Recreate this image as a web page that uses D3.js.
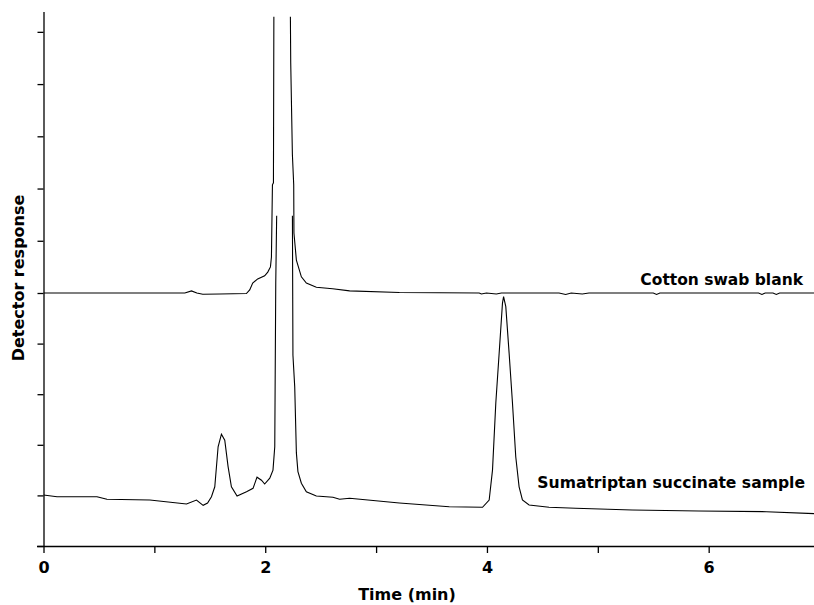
<!DOCTYPE html>
<html lang="en">
<head>
    <meta charset="UTF-8">
    <title>Chromatogram</title>
    <script src="https://d3js.org/d3.v7.min.js"></script>
    <style>
        body { margin: 0; background: #fff; }
        svg { display: block; }
        .trace { fill: none; stroke: #000; stroke-width: 1.1px; }
        .axis path, .axis line { stroke: #000; stroke-width: 1.3px; }
        .axis text, .label, .series-label {
            font-family: "DejaVu Sans", Verdana, sans-serif;
            font-weight: bold;
            fill: #000;
        }
    </style>
</head>
<body>
<svg width="814" height="605"></svg>
<script>
    // time (min), detector response (arbitrary units, tick = 1)
    const blankTime = [0, 1.275, 1.335, 1.383, 1.437, 1.59, 1.83, 1.86, 1.887, 1.932, 1.995, 2.023, 2.047, 2.056, 2.065, 2.074,
        2.09, 2.15, 2.21, 2.227, 2.23, 2.245, 2.257, 2.259, 2.281, 2.326, 2.371, 2.461, 2.608, 2.761, 3.21, 3.93,
        3.95, 3.995, 4.085, 4.13, 4.65, 4.71, 4.76, 4.86, 4.92, 5.50, 5.53, 5.56, 6.45, 6.48, 6.51, 6.58, 6.61, 6.64, 6.95];
    const blankResp = [5.0, 5.0, 5.04, 5.0, 4.975, 4.98, 4.99, 5.06, 5.19, 5.27, 5.33, 5.40, 5.50, 5.69, 7.07, 7.11,
        20, 30, 20, 10.29, 9.41, 7.65, 7.07, 6.15, 5.63, 5.31, 5.19, 5.11, 5.08, 5.04, 5.01, 5.0,
        4.98, 5.0, 4.98, 5.0, 5.0, 4.97, 5.0, 4.98, 5.0, 5.0, 4.97, 5.0, 5.0, 4.97, 5.0, 5.0, 4.97, 5.0, 5.0];

    const sampleTime = [0, 0.122, 0.482, 0.572, 0.959, 1.29, 1.38, 1.44, 1.48, 1.515, 1.545, 1.575, 1.605, 1.635, 1.665,
        1.695, 1.746, 1.831, 1.89, 1.926, 1.966, 1.995, 2.041, 2.07, 2.086, 2.095, 2.104, 2.15, 2.245, 2.25, 2.266,
        2.281, 2.295, 2.326, 2.371, 2.461, 2.611, 2.671, 2.761, 3.21, 3.66, 3.96, 4.02, 4.05, 4.08, 4.11, 4.14, 4.15,
        4.17, 4.20, 4.23, 4.26, 4.29, 4.32, 4.38, 4.56, 4.80, 5.31, 5.91, 6.52, 6.95];
    const sampleResp = [1.008, 0.974, 0.974, 0.923, 0.909, 0.830, 0.909, 0.804, 0.85, 0.974, 1.17, 1.96, 2.21, 2.09, 1.57,
        1.17, 0.988, 1.073, 1.14, 1.36, 1.30, 1.225, 1.34, 1.50, 1.96, 5.2, 6.6, 15, 6.6, 3.77, 3.15,
        1.84, 1.47, 1.24, 1.07, 0.988, 0.962, 0.923, 0.943, 0.85, 0.777, 0.765, 0.909, 1.50, 2.83, 3.81, 4.80, 4.93,
        4.73, 3.81, 2.83, 1.76, 1.17, 0.909, 0.81, 0.765, 0.745, 0.711, 0.692, 0.678, 0.64];

    const seriesNames = ["Cotton swab blank", "Sumatriptan succinate sample"];
    const xTicks = [0, 1, 2, 3, 4, 5, 6];
    const xTickLabels = ["0", "", "2", "", "4", "", "6"];
    const yTicks = [0, 1, 2, 3, 4, 5, 6, 7, 8, 9, 10];

    const svg = d3.select("svg");

    const x = d3.scaleLinear().domain([0, 6.95]).range([43.5, 814]);
    // the two stacked traces were plotted with slightly different vertical spacing
    const y = d3.scaleLinear().domain([0, 5, 10.38]).range([546, 293, 12]);

    // each trace clipped at its own top (response units)
    const clipTops = [10.29, 6.48];
    clipTops.forEach((top, i) => {
        svg.append("clipPath").attr("id", "clip" + i)
            .append("rect")
            .attr("x", x(0)).attr("y", y(top))
            .attr("width", x(6.95) - x(0))
            .attr("height", y(0) - y(top) + 20);
    });

    const line = d3.line().x(d => x(d[0])).y(d => y(d[1]));
    const traces = [d3.zip(blankTime, blankResp), d3.zip(sampleTime, sampleResp)];

    traces.forEach((pts, i) => {
        svg.append("path")
            .attr("class", "trace")
            .attr("clip-path", `url(#clip${i})`)
            .attr("d", line(pts));
    });

    // axes
    svg.append("g")
        .attr("class", "axis")
        .attr("transform", `translate(0,${y(0)})`)
        .call(d3.axisBottom(x).tickValues(xTicks).tickSize(7).tickSizeOuter(0)
            .tickFormat((d, i) => xTickLabels[i]))
        .call(g => g.select(".domain").attr("d", `M37,0.5H814`))
        .selectAll("text").attr("font-size", 16).attr("dy", "1.05em");

    svg.append("g")
        .attr("class", "axis")
        .attr("transform", `translate(${x(0)},0)`)
        .call(d3.axisLeft(y).tickValues(yTicks).tickSize(6).tickSizeOuter(0).tickFormat(""))
        .call(g => g.select(".domain").attr("d", `M0.5,${y(10.38)}V${y(0)}`));

    // labels
    svg.append("text")
        .attr("class", "label")
        .attr("x", 407).attr("y", 600)
        .attr("text-anchor", "middle")
        .attr("font-size", 16)
        .text("Time (min)");

    svg.append("text")
        .attr("class", "label")
        .attr("transform", "translate(24,278) rotate(-90)")
        .attr("text-anchor", "middle")
        .attr("font-size", 16)
        .text("Detector response");

    svg.append("text")
        .attr("class", "series-label")
        .attr("x", 803).attr("y", y(5) - 8)
        .attr("text-anchor", "end")
        .attr("font-size", 15.5)
        .text(seriesNames[0]);

    svg.append("text")
        .attr("class", "series-label")
        .attr("x", 805).attr("y", 488)
        .attr("text-anchor", "end")
        .attr("font-size", 15.6)
        .text(seriesNames[1]);
</script>
</body>
</html>
